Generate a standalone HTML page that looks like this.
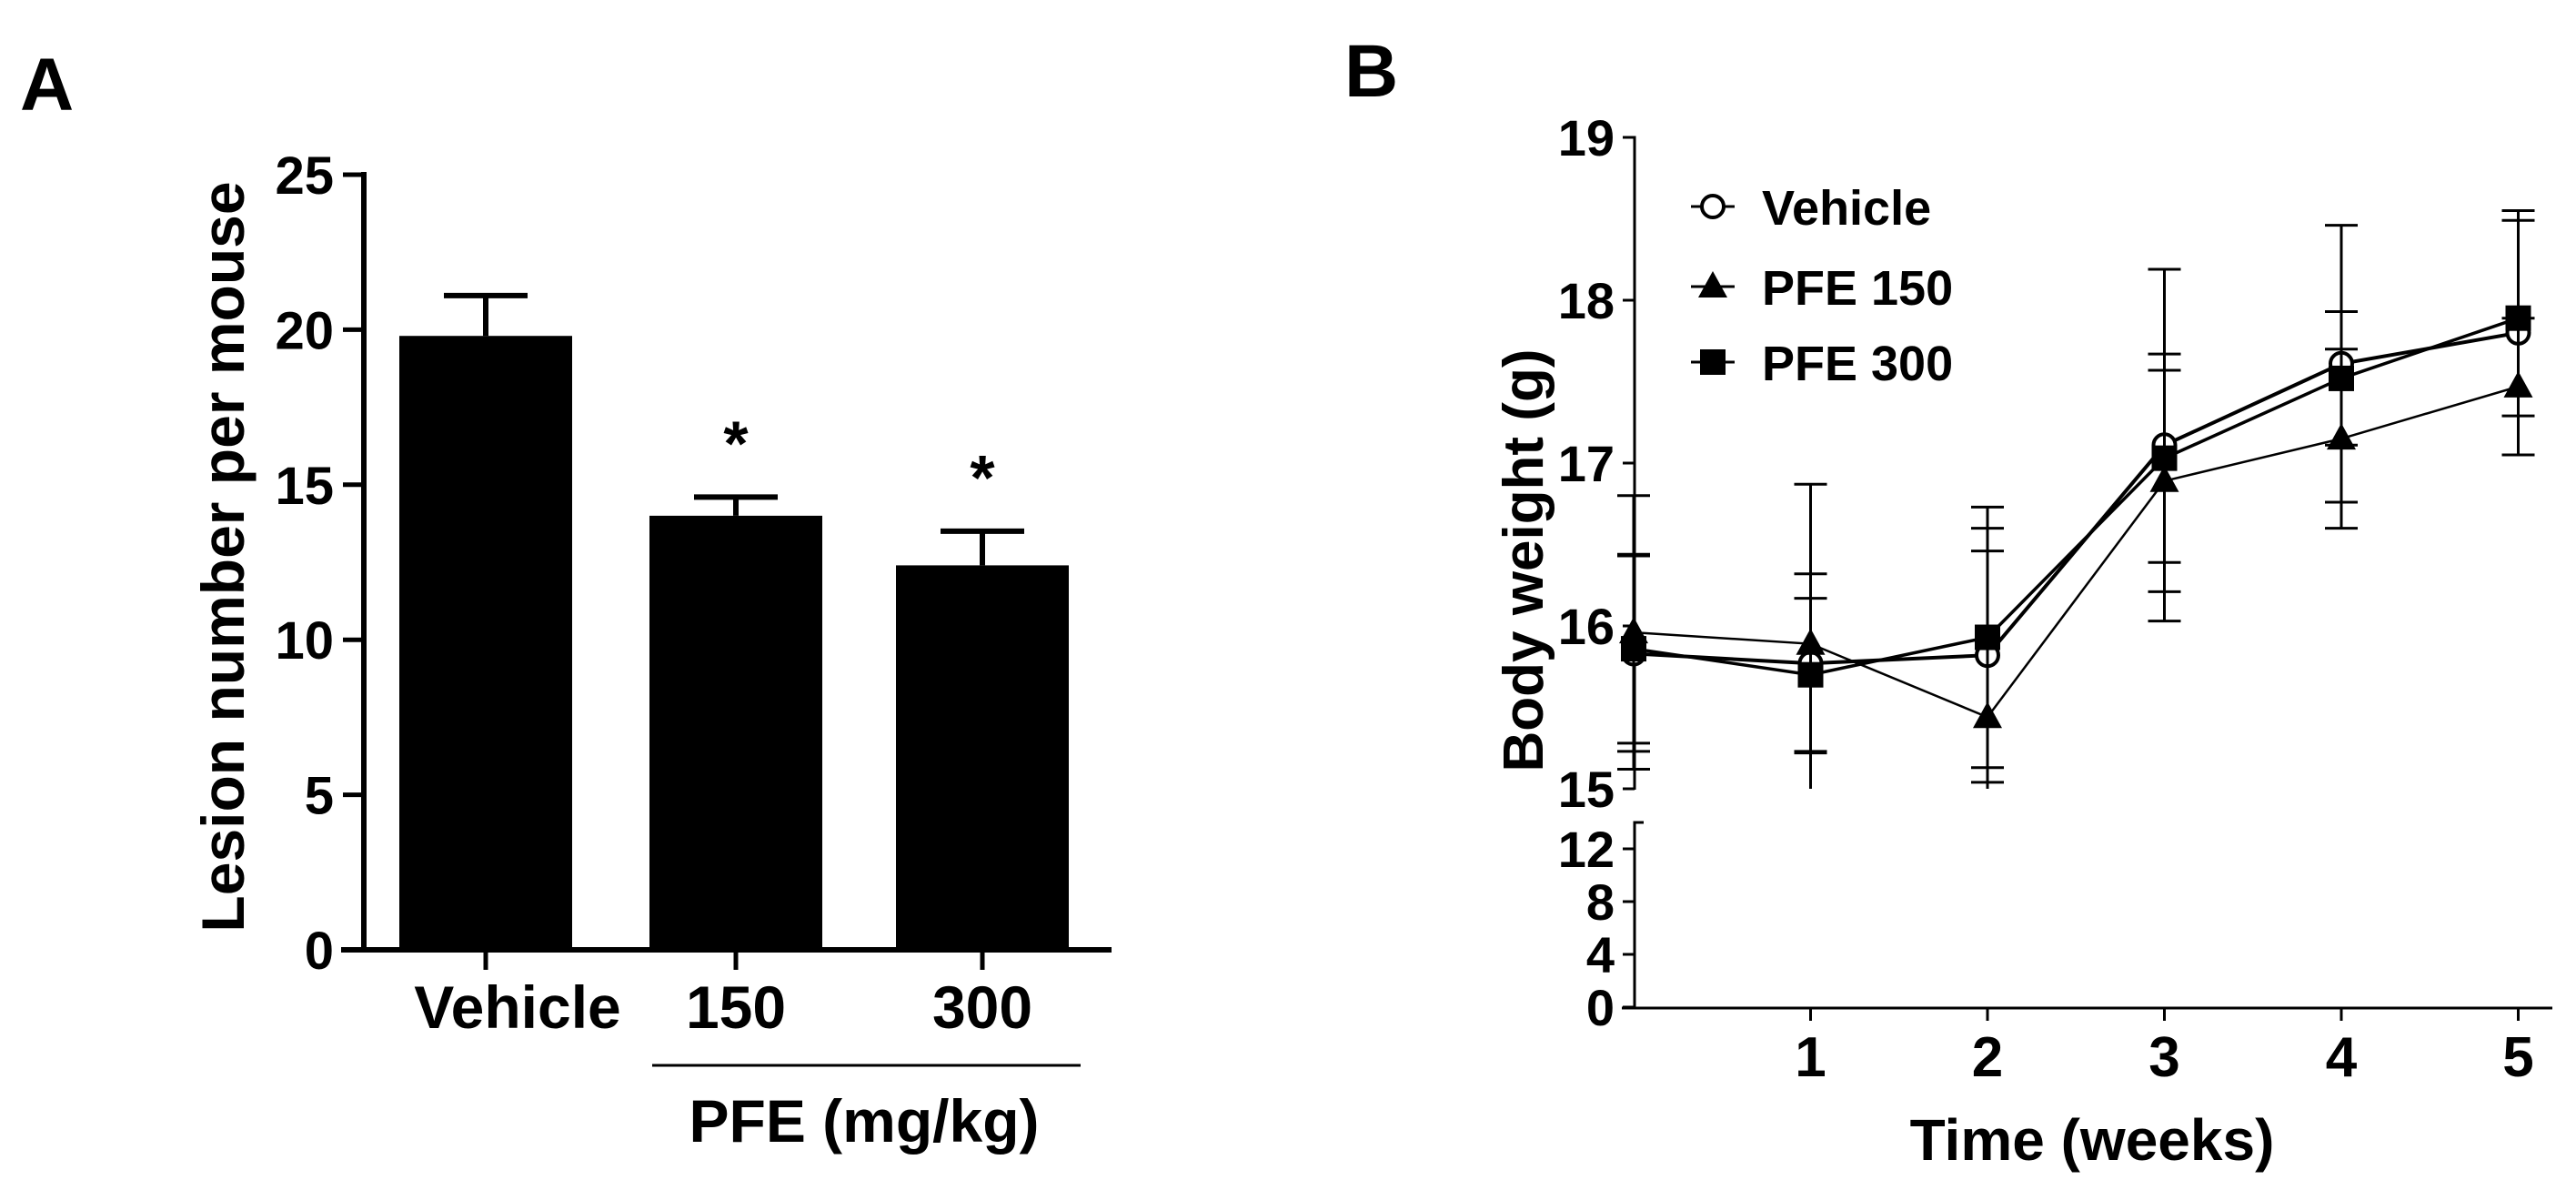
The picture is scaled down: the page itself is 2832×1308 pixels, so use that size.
<!DOCTYPE html>
<html><head><meta charset="utf-8"><style>
html,body{margin:0;padding:0;background:#fff;}
svg{display:block;font-family:"Liberation Sans",Arial,sans-serif;font-weight:bold;}
</style></head><body>
<svg id="fig" width="2832" height="1308" viewBox="0 0 2832 1308" xmlns="http://www.w3.org/2000/svg">
<text x="22" y="121" font-size="82">A</text>
<text x="1478" y="106" font-size="82">B</text>
<g id="panelA"></g>
<g id="panelB"></g>
</svg>
<script>
// Panel A data
const aCategories = ["Vehicle", "150", "300"];
const aValues = [19.8, 14.0, 12.4];
const aErrors = [1.3, 0.6, 1.1];
const aSig = ["", "*", "*"];
const aTicks = [0, 5, 10, 15, 20, 25];
// Panel B data
const bWeeks = [0, 1, 2, 3, 4, 5];
const bSeriesNames = ["Vehicle", "PFE 150", "PFE 300"];
const bVehicle = [15.83, 15.77, 15.82, 17.11, 17.61, 17.80];
const bPfe150 = [15.96, 15.89, 15.44, 16.89, 17.15, 17.47];
const bPfe300 = [15.86, 15.70, 15.93, 17.03, 17.52, 17.89];
const bVehicleErr = [0.60, 0.55, 0.78, 1.08, 0.85, 0.75];
const bPfe150Err = [0.84, 0.98, 1.02, 0.68, 0.55, 0.42];
const bPfe300Err = [0.58, 0.47, 0.80, 0.64, 0.41, 0.60];
const bUpperTicks = [15, 16, 17, 18, 19];
const bLowerTicks = [0, 4, 8, 12];
const bXTicks = [1, 2, 3, 4, 5];

const NS = "http://www.w3.org/2000/svg";
function mk(parent, tag, attrs, text) {
  const e = document.createElementNS(NS, tag);
  for (const k in attrs) e.setAttribute(k, attrs[k]);
  if (text !== undefined) e.textContent = text;
  parent.appendChild(e);
  return e;
}

// ---------- Panel A ----------
const A = document.getElementById('panelA');
const ay = v => 1044 - v * 34.08;
const aCenters = [534, 809, 1080];
const ax = i => aCenters[i];
let e;
e = mk(A, 'line', {x1: 400, y1: 189, x2: 400, y2: 1047, stroke: '#000', 'stroke-width': 6});
 
e = mk(A, 'line', {x1: 375, y1: 1044, x2: 1222, y2: 1044, stroke: '#000', 'stroke-width': 6});
 
aTicks.forEach(t => {
  e = mk(A, 'line', {x1: 377, y1: ay(t), x2: 400, y2: ay(t), stroke: '#000', 'stroke-width': 5});
   
  e = mk(A, 'text', {x: 367, y: ay(t) + 21, 'font-size': 58, 'text-anchor': 'end'}, String(t));
   
});
aCategories.forEach((c, i) => {
  const cx = ax(i), w = 190;
  e = mk(A, 'rect', {x: cx - w / 2, y: ay(aValues[i]), width: w, height: ay(0) - ay(aValues[i]), fill: '#000'});
   
  e = mk(A, 'path', {d: `M${cx},${ay(aValues[i])} V${ay(aValues[i] + aErrors[i])} M${cx - 46},${ay(aValues[i] + aErrors[i])} H${cx + 46}`, stroke: '#000', 'stroke-width': 6, fill: 'none'});
   
  e = mk(A, 'line', {x1: cx, y1: 1044, x2: cx, y2: 1066, stroke: '#000', 'stroke-width': 5});
   
  e = mk(A, 'text', {x: i === 0 ? 569 : cx, y: 1130, 'font-size': 66, 'text-anchor': 'middle'}, c);
   
  if (aSig[i]) {
    e = mk(A, 'text', {x: cx, y: ay(aValues[i] + aErrors[i]) - 35, 'font-size': 70, 'text-anchor': 'middle'}, aSig[i]);
     
  }
});
e = mk(A, 'line', {x1: 717, y1: 1171, x2: 1188, y2: 1171, stroke: '#000', 'stroke-width': 3});
 
e = mk(A, 'text', {x: 950, y: 1255, 'font-size': 66, 'text-anchor': 'middle'}, 'PFE (mg/kg)');
 
e = mk(A, 'text', {x: 0, y: 0, 'font-size': 66, 'text-anchor': 'middle', transform: 'translate(268,612) rotate(-90)'}, 'Lesion number per mouse');
 

// ---------- Panel B ----------
const B = document.getElementById('panelB');
const bx = w => 1796 + w * 194.5;
const byU = v => 867 - (v - 15) * 179;
const byL = v => 1107 - v * 14.5;
e = mk(B, 'path', {d: 'M1787,151 H1797 V868', stroke: '#000', 'stroke-width': 3, fill: 'none'});
 
e = mk(B, 'path', {d: 'M1807,904 H1797 V1108', stroke: '#000', 'stroke-width': 3, fill: 'none'});
 
e = mk(B, 'line', {x1: 1783, y1: 1108, x2: 2806, y2: 1108, stroke: '#000', 'stroke-width': 3});
 
bUpperTicks.forEach(t => {
  e = mk(B, 'line', {x1: 1784, y1: byU(t), x2: 1797, y2: byU(t), stroke: '#000', 'stroke-width': 3});
   
  e = mk(B, 'text', {x: 1775, y: byU(t) + 20, 'font-size': 56, 'text-anchor': 'end'}, String(t));
   
});
bLowerTicks.forEach(t => {
  e = mk(B, 'line', {x1: 1784, y1: byL(t), x2: 1797, y2: byL(t), stroke: '#000', 'stroke-width': 3});
   
  e = mk(B, 'text', {x: 1775, y: byL(t) + 20, 'font-size': 56, 'text-anchor': 'end'}, String(t));
   
});
bXTicks.forEach(t => {
  e = mk(B, 'line', {x1: bx(t), y1: 1108, x2: bx(t), y2: 1122, stroke: '#000', 'stroke-width': 3});
   
  e = mk(B, 'text', {x: bx(t), y: 1183, 'font-size': 62, 'text-anchor': 'middle'}, String(t));
   
});
e = mk(B, 'text', {x: 2300, y: 1275, 'font-size': 64, 'text-anchor': 'middle'}, 'Time (weeks)');
 
e = mk(B, 'text', {x: 0, y: 0, 'font-size': 62, 'text-anchor': 'middle', transform: 'translate(1696,616) rotate(-90)'}, 'Body weight (g)');
 

const series = [
  {vals: bVehicle, err: bVehicleErr, m: 'circle', sw: 4},
  {vals: bPfe150, err: bPfe150Err, m: 'triangle', sw: 2.5},
  {vals: bPfe300, err: bPfe300Err, m: 'square', sw: 3.5}
];
function marker(g, type, x, y) {
  let el;
  if (type === 'circle') el = mk(g, 'circle', {cx: x, cy: y, r: 12, fill: '#fff', stroke: '#000', 'stroke-width': 4});
  else if (type === 'triangle') el = mk(g, 'path', {d: `M${x},${y - 17} L${x + 16},${y + 12} L${x - 16},${y + 12} Z`, fill: '#000'});
  else el = mk(g, 'rect', {x: x - 14, y: y - 14, width: 28, height: 28, fill: '#000'});
  return el;
}
series.forEach((s, si) => {
  const g = mk(B, 'g', {});
  
  
  bWeeks.forEach((w, i) => {
    const hi = Math.min(19, s.vals[i] + s.err[i]), lo = Math.max(15, s.vals[i] - s.err[i]);
    const x = bx(w);
    e = mk(g, 'path', {d: `M${x},${byU(hi)} V${byU(lo)} M${x - 18},${byU(hi)} H${x + 18} ${lo > 15 ? `M${x - 18},${byU(lo)} H${x + 18}` : ''}`, stroke: '#000', 'stroke-width': 3, fill: 'none'});
     
  });
  const d = bWeeks.map((w, i) => (i ? 'L' : 'M') + bx(w) + ',' + byU(s.vals[i])).join(' ');
  e = mk(g, 'path', {d: d, stroke: '#000', 'stroke-width': s.sw, fill: 'none'});
   
  bWeeks.forEach((w, i) => {
    e = marker(g, s.m, bx(w), byU(s.vals[i]));
     
  });
});
// legend
const legY = [227, 315, 398];
series.forEach((s, si) => {
  const g = mk(B, 'g', {});
   
  mk(g, 'line', {x1: 1859, y1: legY[si], x2: 1907, y2: legY[si], stroke: '#000', 'stroke-width': 3});
  marker(g, s.m, 1883, legY[si]);
  mk(g, 'text', {x: 1937, y: legY[si] + 20, 'font-size': 54}, bSeriesNames[si]);
});
</script>
</body></html>
